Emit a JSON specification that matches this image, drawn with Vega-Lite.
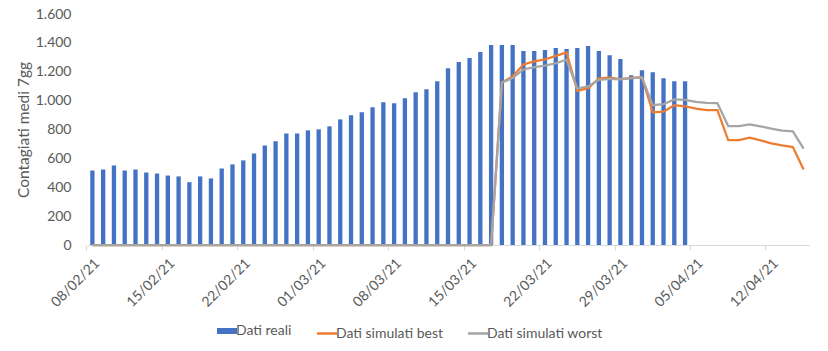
{
  "$schema": "https://vega.github.io/schema/vega-lite/v6.json",
  "width": 722,
  "height": 231,
  "autosize": {"type": "none"},
  "padding": {"left": 87, "top": 14, "right": 19, "bottom": 106},
  "background": "white",
  "config": {
    "view": {"stroke": null},
    "font": "Lato",
    "axis": {"grid": false, "labelFont": "Lato", "titleFont": "Lato", "labelColor": "#595959", "titleColor": "#595959", "labelFontSize": 14, "titleFontSize": 15.5, "titleFontWeight": "normal"},
    "legend": {"labelFont": "Lato", "labelFontSize": 14, "labelColor": "#595959"}
  },
  "data": {
    "values": [
      {"date": "2021-02-08", "reali": 516, "best": 0, "worst": 0},
      {"date": "2021-02-09", "reali": 523, "best": 0, "worst": 0},
      {"date": "2021-02-10", "reali": 551, "best": 0, "worst": 0},
      {"date": "2021-02-11", "reali": 516, "best": 0, "worst": 0},
      {"date": "2021-02-12", "reali": 523, "best": 0, "worst": 0},
      {"date": "2021-02-13", "reali": 502, "best": 0, "worst": 0},
      {"date": "2021-02-14", "reali": 495, "best": 0, "worst": 0},
      {"date": "2021-02-15", "reali": 481, "best": 0, "worst": 0},
      {"date": "2021-02-16", "reali": 475, "best": 0, "worst": 0},
      {"date": "2021-02-17", "reali": 435, "best": 0, "worst": 0},
      {"date": "2021-02-18", "reali": 475, "best": 0, "worst": 0},
      {"date": "2021-02-19", "reali": 461, "best": 0, "worst": 0},
      {"date": "2021-02-20", "reali": 530, "best": 0, "worst": 0},
      {"date": "2021-02-21", "reali": 558, "best": 0, "worst": 0},
      {"date": "2021-02-22", "reali": 586, "best": 0, "worst": 0},
      {"date": "2021-02-23", "reali": 634, "best": 0, "worst": 0},
      {"date": "2021-02-24", "reali": 690, "best": 0, "worst": 0},
      {"date": "2021-02-25", "reali": 718, "best": 0, "worst": 0},
      {"date": "2021-02-26", "reali": 773, "best": 0, "worst": 0},
      {"date": "2021-02-27", "reali": 773, "best": 0, "worst": 0},
      {"date": "2021-02-28", "reali": 794, "best": 0, "worst": 0},
      {"date": "2021-03-01", "reali": 801, "best": 0, "worst": 0},
      {"date": "2021-03-02", "reali": 822, "best": 0, "worst": 0},
      {"date": "2021-03-03", "reali": 870, "best": 0, "worst": 0},
      {"date": "2021-03-04", "reali": 898, "best": 0, "worst": 0},
      {"date": "2021-03-05", "reali": 919, "best": 0, "worst": 0},
      {"date": "2021-03-06", "reali": 954, "best": 0, "worst": 0},
      {"date": "2021-03-07", "reali": 989, "best": 0, "worst": 0},
      {"date": "2021-03-08", "reali": 982, "best": 0, "worst": 0},
      {"date": "2021-03-09", "reali": 1017, "best": 0, "worst": 0},
      {"date": "2021-03-10", "reali": 1058, "best": 0, "worst": 0},
      {"date": "2021-03-11", "reali": 1079, "best": 0, "worst": 0},
      {"date": "2021-03-12", "reali": 1135, "best": 0, "worst": 0},
      {"date": "2021-03-13", "reali": 1225, "best": 0, "worst": 0},
      {"date": "2021-03-14", "reali": 1267, "best": 0, "worst": 0},
      {"date": "2021-03-15", "reali": 1295, "best": 0, "worst": 0},
      {"date": "2021-03-16", "reali": 1336, "best": 0, "worst": 0},
      {"date": "2021-03-17", "reali": 1385, "best": 0, "worst": 0},
      {"date": "2021-03-18", "reali": 1385, "best": 1126, "worst": 1126},
      {"date": "2021-03-19", "reali": 1385, "best": 1167, "worst": 1156},
      {"date": "2021-03-20", "reali": 1343, "best": 1251, "worst": 1216},
      {"date": "2021-03-21", "reali": 1343, "best": 1272, "worst": 1232},
      {"date": "2021-03-22", "reali": 1350, "best": 1285, "worst": 1243},
      {"date": "2021-03-23", "reali": 1364, "best": 1310, "worst": 1259},
      {"date": "2021-03-24", "reali": 1357, "best": 1334, "worst": 1283},
      {"date": "2021-03-25", "reali": 1364, "best": 1068, "worst": 1084},
      {"date": "2021-03-26", "reali": 1378, "best": 1086, "worst": 1098},
      {"date": "2021-03-27", "reali": 1343, "best": 1154, "worst": 1144},
      {"date": "2021-03-28", "reali": 1315, "best": 1160, "worst": 1151},
      {"date": "2021-03-29", "reali": 1288, "best": 1149, "worst": 1147},
      {"date": "2021-03-30", "reali": 1176, "best": 1158, "worst": 1155},
      {"date": "2021-03-31", "reali": 1211, "best": 1163, "worst": 1160},
      {"date": "2021-04-01", "reali": 1197, "best": 919, "worst": 968},
      {"date": "2021-04-02", "reali": 1155, "best": 924, "worst": 975},
      {"date": "2021-04-03", "reali": 1135, "best": 968, "worst": 1008},
      {"date": "2021-04-04", "reali": 1135, "best": 961, "worst": 1005},
      {"date": "2021-04-05", "reali": null, "best": 945, "worst": 991},
      {"date": "2021-04-06", "reali": null, "best": 935, "worst": 984},
      {"date": "2021-04-07", "reali": null, "best": 935, "worst": 982},
      {"date": "2021-04-08", "reali": null, "best": 727, "worst": 824},
      {"date": "2021-04-09", "reali": null, "best": 727, "worst": 824},
      {"date": "2021-04-10", "reali": null, "best": 743, "worst": 836},
      {"date": "2021-04-11", "reali": null, "best": 725, "worst": 822},
      {"date": "2021-04-12", "reali": null, "best": 704, "worst": 806},
      {"date": "2021-04-13", "reali": null, "best": 690, "worst": 792},
      {"date": "2021-04-14", "reali": null, "best": 678, "worst": 787},
      {"date": "2021-04-15", "reali": null, "best": 523, "worst": 667}
    ]
  },
  "encoding": {
    "x": {
      "field": "date",
      "type": "ordinal",
      "scale": {"paddingInner": 0.6, "paddingOuter": 0.3},
      "axis": {
        "title": null,
        "values": ["2021-02-08", "2021-02-15", "2021-02-22", "2021-03-01", "2021-03-08", "2021-03-15", "2021-03-22", "2021-03-29", "2021-04-05", "2021-04-12"],
        "labelExpr": "substring(datum.value, 8, 10) + '/' + substring(datum.value, 5, 7) + '/' + substring(datum.value, 2, 4)",
        "bandPosition": -0.75,
        "labelAngle": -45,
        "labelPadding": 6,
        "labelOverlap": false,
        "domainColor": "#d9d9d9",
        "tickColor": "#d9d9d9",
        "tickSize": 5
      }
    }
  },
  "layer": [
    {
      "mark": {"type": "bar"},
      "encoding": {
        "y": {
          "field": "reali",
          "type": "quantitative",
          "scale": {"domain": [0, 1600]},
          "axis": {
            "title": "Contagiati medi 7gg",
            "values": [0, 200, 400, 600, 800, 1000, 1200, 1400, 1600],
            "labelExpr": "replace(format(datum.value, ','), ',', '.')",
            "labelOverlap": false,
            "domain": false,
            "ticks": false,
            "labelPadding": 16,
            "titlePadding": 4
          }
        },
        "color": {
          "datum": "Dati reali",
          "type": "nominal",
          "scale": {"domain": ["Dati reali", "Dati simulati best", "Dati simulati worst"], "range": ["#4472C4", "#ED7D31", "#A5A5A5"]},
          "legend": {
            "title": null,
            "orient": "none",
            "legendX": 133,
            "legendY": 310,
            "direction": "horizontal",
            "symbolType": "stroke",
            "symbolSize": 400,
            "symbolStrokeWidth": 2.5,
            "columnPadding": 20,
            "labelOffset": 2,
            "encode": {
              "symbols": {
                "update": {
                  "shape": {"value": "stroke"},
                  "stroke": {"scale": "color", "field": "value"},
                  "strokeWidth": {"signal": "datum.value === 'Dati reali' ? 6 : 2.5"},
                  "opacity": {"value": 1}
                }
              }
            }
          }
        }
      }
    },
    {
      "mark": {"type": "line", "strokeWidth": 2.25},
      "encoding": {
        "y": {
          "field": "best",
          "type": "quantitative",
          "axis": {
            "title": "Contagiati medi 7gg",
            "values": [0, 200, 400, 600, 800, 1000, 1200, 1400, 1600],
            "labelExpr": "replace(format(datum.value, ','), ',', '.')",
            "labelOverlap": false,
            "domain": false,
            "ticks": false,
            "labelPadding": 16,
            "titlePadding": 4
          }
        },
        "color": {"datum": "Dati simulati best", "type": "nominal"}
      }
    },
    {
      "mark": {"type": "line", "strokeWidth": 2.25},
      "encoding": {
        "y": {
          "field": "worst",
          "type": "quantitative",
          "axis": {
            "title": "Contagiati medi 7gg",
            "values": [0, 200, 400, 600, 800, 1000, 1200, 1400, 1600],
            "labelExpr": "replace(format(datum.value, ','), ',', '.')",
            "labelOverlap": false,
            "domain": false,
            "ticks": false,
            "labelPadding": 16,
            "titlePadding": 4
          }
        },
        "color": {"datum": "Dati simulati worst", "type": "nominal"}
      }
    }
  ]
}
